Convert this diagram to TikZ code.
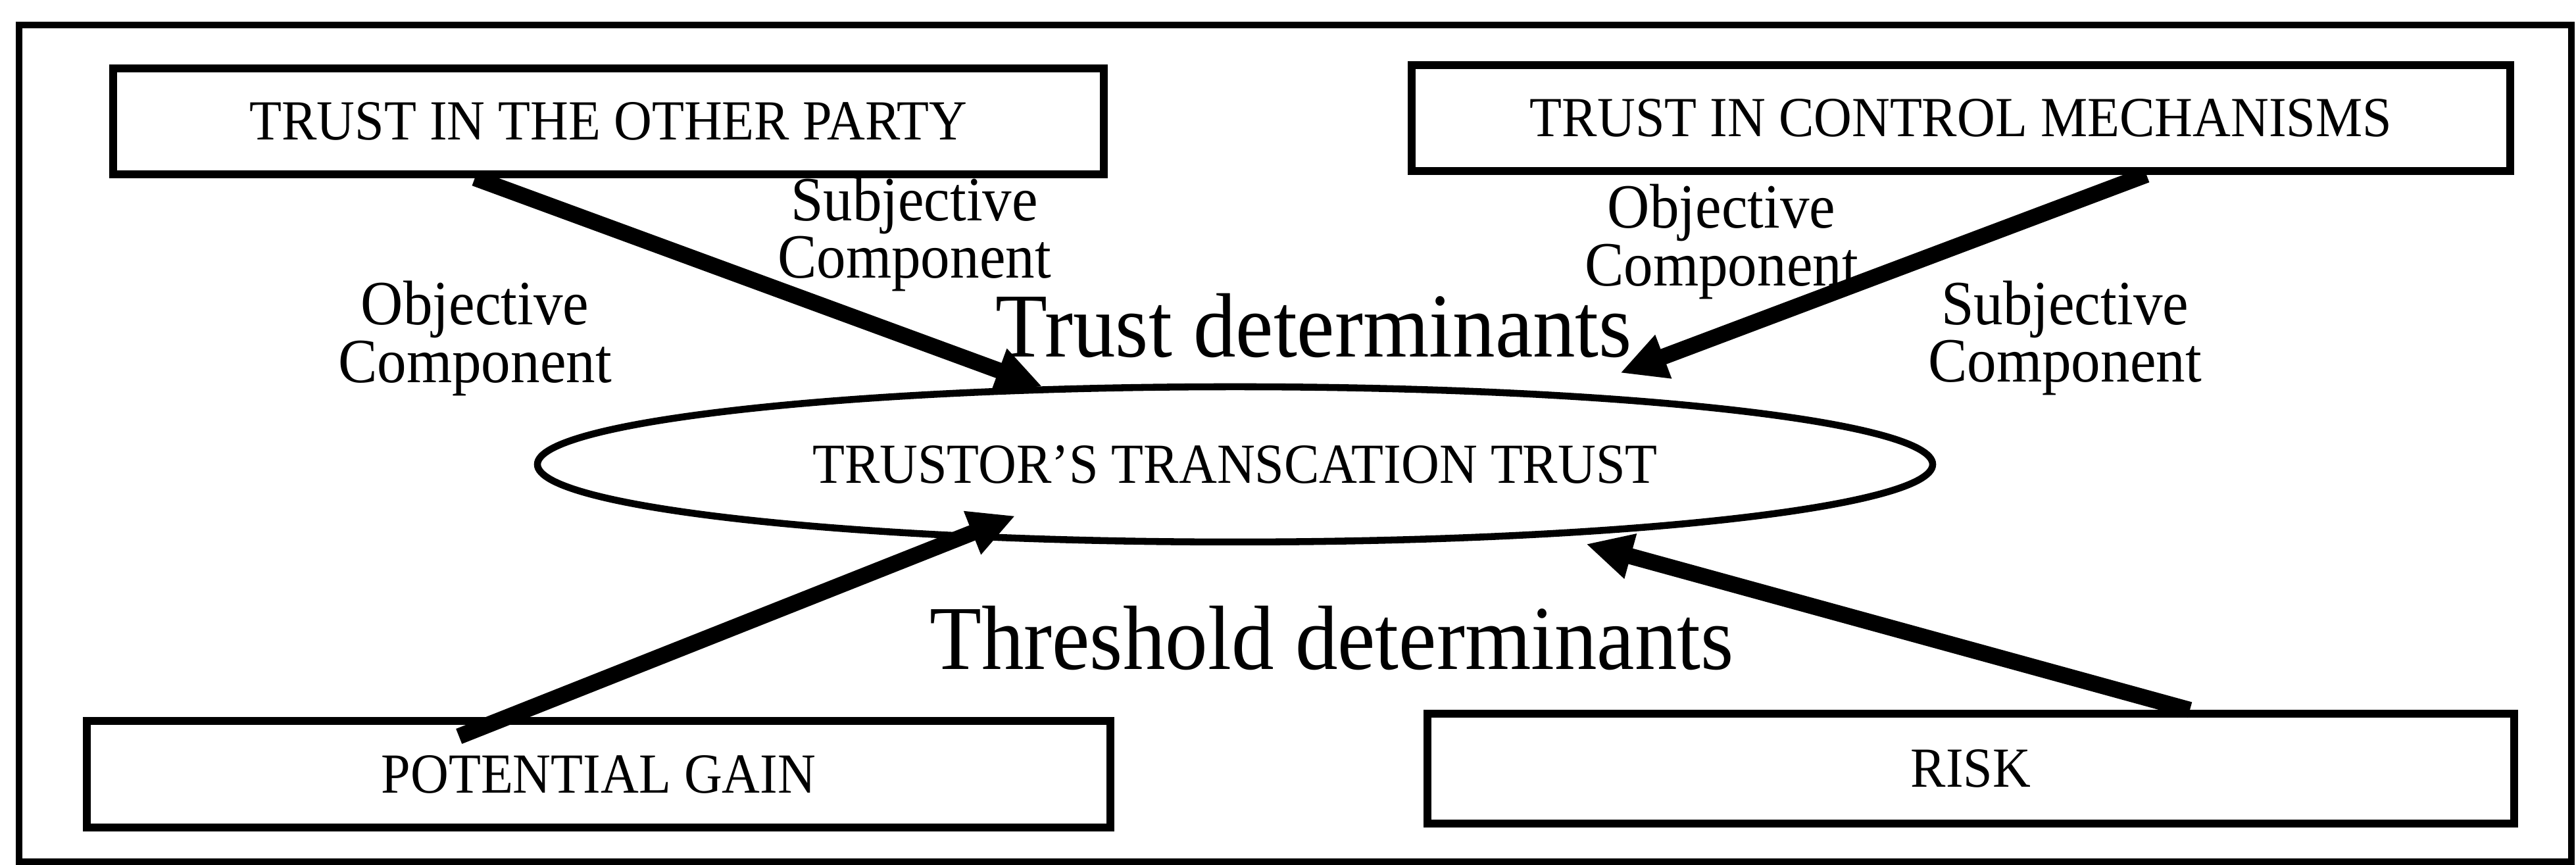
\documentclass[tikz,border=0pt]{standalone}
\usepackage{fontspec}
\setmainfont{Liberation Serif}[FakeStretch=0.93]
\usetikzlibrary{arrows.meta, shapes.geometric}

\begin{document}
\begin{tikzpicture}[
    every node/.style={font=\fontsize{9.8}{11}\selectfont},
    mainbox/.style={draw, line width=1.3pt, inner sep=0pt},
    lbl/.style={align=center, font=\fontsize{10.9}{10}\selectfont},
    dettext/.style={anchor=base, font=\fontsize{15.8}{17}\selectfont},
    arr/.style={-{Triangle[length=8pt, width=7.5pt]}, line width=2.8pt},
]
\useasboundingbox (0,0) rectangle (15.664,5.26);

% === Outer frame ===
\draw[line width=1.2pt] (0.116,0.02) rectangle (15.636,5.108);

% === Trust boxes (top) ===
\node[mainbox, minimum width=6.024cm, minimum height=0.644cm] (tiop) at (3.70,4.522) {TRUST IN THE OTHER PARTY};
\node[mainbox, minimum width=6.68cm, minimum height=0.644cm] (ticm) at (11.924,4.542) {TRUST IN CONTROL MECHANISMS};

% === Threshold boxes (bottom) ===
\node[mainbox, minimum width=6.224cm, minimum height=0.648cm] (gain) at (3.64,0.552) {POTENTIAL GAIN};
\node[mainbox, minimum width=6.608cm, minimum height=0.668cm] (risk) at (11.984,0.586) {RISK};

% === Central ellipse ===
\node[draw, ellipse, line width=1.2pt, inner sep=0pt, minimum width=8.484cm, minimum height=0.944cm] (ell) at (7.51,2.436) {TRUSTOR’S TRANSCATION TRUST};

% === Component labels ===
\node[lbl] (objl) at (2.888,3.202) {Objective\\Component};
\node[lbl] (subjl) at (5.56,3.836) {Subjective\\Component};
\node[lbl] (objr) at (10.468,3.79) {Objective\\Component};
\node[lbl] (subjr) at (12.556,3.204) {Subjective\\Component};

% === Determinant headings ===
\node[dettext] (trustdet) at (7.99,3.088) {Trust determinants};
\node[dettext] (threshdet) at (8.098,1.188) {Threshold determinants};

% === Arrows ===
\coordinate (ticm-tip) at (9.852,2.992);
\coordinate (risk-tip) at (9.644,1.952);
\draw[arr] (tiop.203.5) -- (ell.158);
\draw[arr] (ticm.343) -- (ticm-tip);
\draw[arr, shorten <=-9pt, shorten >=-10.8pt] (gain.148) -- (ell.195);
\draw[arr] (risk.15) -- (risk-tip);

\end{tikzpicture}
\end{document}
